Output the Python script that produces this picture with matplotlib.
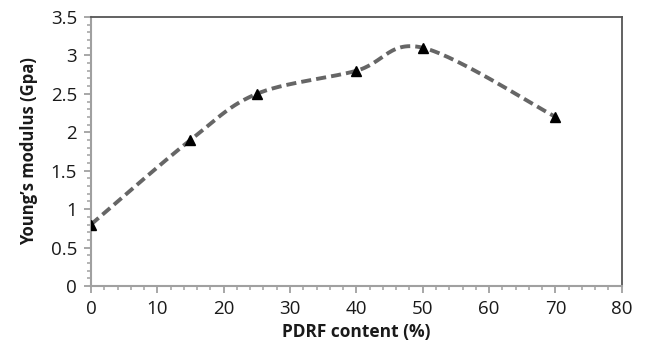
import numpy as np
import matplotlib.pyplot as plt
from matplotlib.ticker import MultipleLocator

# data
pdrf_content = [0, 15, 25, 40, 50, 70]
youngs_modulus = [0.8, 1.9, 2.5, 2.8, 3.1, 2.2]


def smooth_curve(xs, ys, n=30):
    # Catmull-Rom style smoothing (like Excel "smoothed line")
    pts = np.column_stack([xs, ys]).astype(float)
    ext = np.vstack([pts[0], pts, pts[-1]])
    out = []
    for i in range(1, len(ext) - 2):
        p0, p1, p2, p3 = ext[i - 1], ext[i], ext[i + 1], ext[i + 2]
        c1 = p1 + (p2 - p0) / 6.0
        c2 = p2 - (p3 - p1) / 6.0
        t = np.linspace(0, 1, n)[:, None]
        seg = ((1 - t) ** 3) * p1 + 3 * ((1 - t) ** 2) * t * c1 \
            + 3 * (1 - t) * t ** 2 * c2 + t ** 3 * p2
        out.append(seg if i == 1 else seg[1:])
    out = np.vstack(out)
    return out[:, 0], out[:, 1]


plt.rcParams['font.family'] = ['Open Sans', 'DejaVu Sans']

fig = plt.figure(figsize=(6.47, 3.46), dpi=100)
ax = fig.add_axes([0.1406, 0.1734, 0.8204, 0.7776])

sx, sy = smooth_curve(pdrf_content, youngs_modulus)
ax.plot(sx, sy, color='#666666', lw=2.8, dashes=(2.6, 1.3), zorder=2)
ax.plot(pdrf_content, youngs_modulus, ls='none', marker='^', color='black',
        markersize=7.5, zorder=3)

ax.set_xlim(0, 80)
ax.set_ylim(0, 3.5)
ax.xaxis.set_major_locator(MultipleLocator(10))
ax.xaxis.set_minor_locator(MultipleLocator(2))
ax.yaxis.set_major_locator(MultipleLocator(0.5))
ax.yaxis.set_minor_locator(MultipleLocator(0.1))
ax.set_yticks([0, 0.5, 1, 1.5, 2, 2.5, 3, 3.5])
ax.set_yticklabels(['0', '0.5', '1', '1.5', '2', '2.5', '3', '3.5'])

for side in ['left', 'bottom']:
    ax.spines[side].set_color('#a0a0a0')
    ax.spines[side].set_linewidth(1.5)
for side in ['top', 'right']:
    ax.spines[side].set_color('#555555')
    ax.spines[side].set_linewidth(1.3)

ax.tick_params(which='major', direction='out', length=5, width=1.3,
               color='#a0a0a0', labelsize=13.5, labelcolor='#1a1a1a', pad=5)
ax.tick_params(which='minor', direction='out', length=3, width=1.1,
               color='#a0a0a0')

ax.set_xlabel('PDRF content (%)', fontsize=12.5, fontweight='bold',
              color='#1a1a1a', labelpad=4)
ax.set_ylabel('Young\u2019s modulus (Gpa)', fontsize=12, fontweight='bold',
              color='#1a1a1a', labelpad=9)

fig.savefig('out.png', dpi=100)
